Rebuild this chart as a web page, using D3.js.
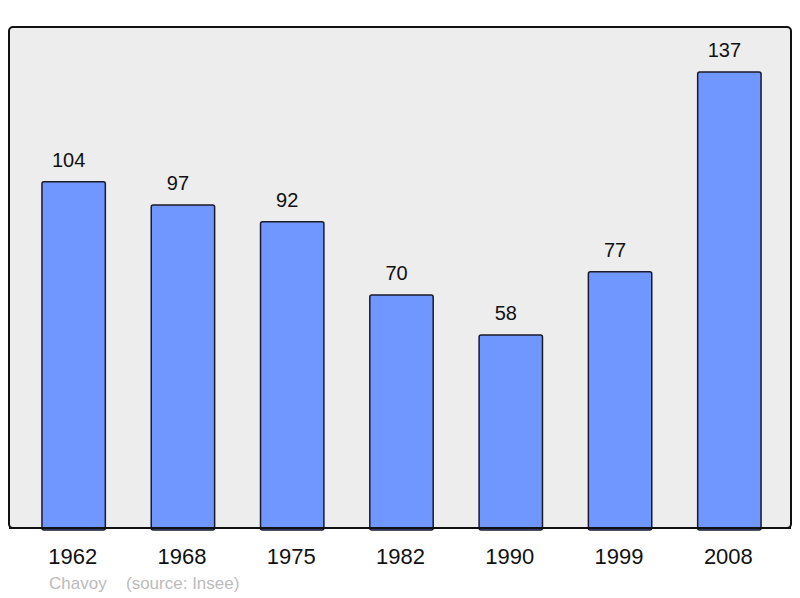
<!DOCTYPE html>
<html><head><meta charset="utf-8">
<script src="https://cdn.jsdelivr.net/npm/d3@7"></script>
<style>body{margin:0;background:#fff}svg{display:block}</style>
</head><body>
<svg id="c" width="800" height="598"></svg>
<script>
const years = ["1962","1968","1975","1982","1990","1999","2008"];
const population = [104, 97, 92, 70, 58, 77, 137];
const commune = "Chavoy";
const sourceText = "(source: Insee)";

const svg = d3.select("#c");
const font = "Liberation Sans, Arial, sans-serif";

svg.append("rect").attr("x", 9).attr("y", 27).attr("width", 782).attr("height", 501)
  .attr("rx", 4).attr("fill", "#ededed").attr("stroke", "#111").attr("stroke-width", 2);

const x = d3.scaleBand().domain(years).range([19, 784]).paddingInner(0.42).paddingOuter(0.21);
const y = d3.scaleLinear().domain([0, 150.5]).range([528, 27]);

const g = svg.append("g");
g.selectAll("rect.bar").data(years).join("rect").attr("class", "bar")
  .attr("x", d => x(d)).attr("width", x.bandwidth())
  .attr("y", (d, i) => y(population[i]))
  .attr("height", (d, i) => y(0) - y(population[i]) + 2)
  .attr("rx", 2)
  .attr("fill", "#7096ff").attr("stroke", "#1a1a2a").attr("stroke-width", 1.5);

svg.append("line").attr("x1", 9).attr("x2", 791).attr("y1", 528).attr("y2", 528)
  .attr("stroke", "#111").attr("stroke-width", 2);

g.selectAll("text.val").data(years).join("text").attr("class", "val")
  .attr("x", d => x(d) + x.bandwidth() / 2 - 5)
  .attr("y", (d, i) => y(population[i]) - 15)
  .attr("text-anchor", "middle").attr("font-family", font).attr("font-size", 20)
  .attr("fill", "#111").text((d, i) => population[i]);

const xAxis = d3.axisBottom(x).tickSize(0).tickPadding(0);
const ax = svg.append("g").attr("transform", "translate(0,528)").call(xAxis);
ax.select(".domain").remove();
ax.selectAll("text").attr("y", 36).attr("dy", null).attr("x", -1).attr("font-family", font)
  .attr("font-size", 22).attr("fill", "#111");

svg.append("text").attr("x", 49).attr("y", 589).attr("font-family", font)
  .attr("font-size", 17).attr("fill", "#bbbbbb").text(commune);
svg.append("text").attr("x", 126).attr("y", 589).attr("font-family", font)
  .attr("font-size", 17).attr("fill", "#bbbbbb").text(sourceText);
</script>
</body></html>
